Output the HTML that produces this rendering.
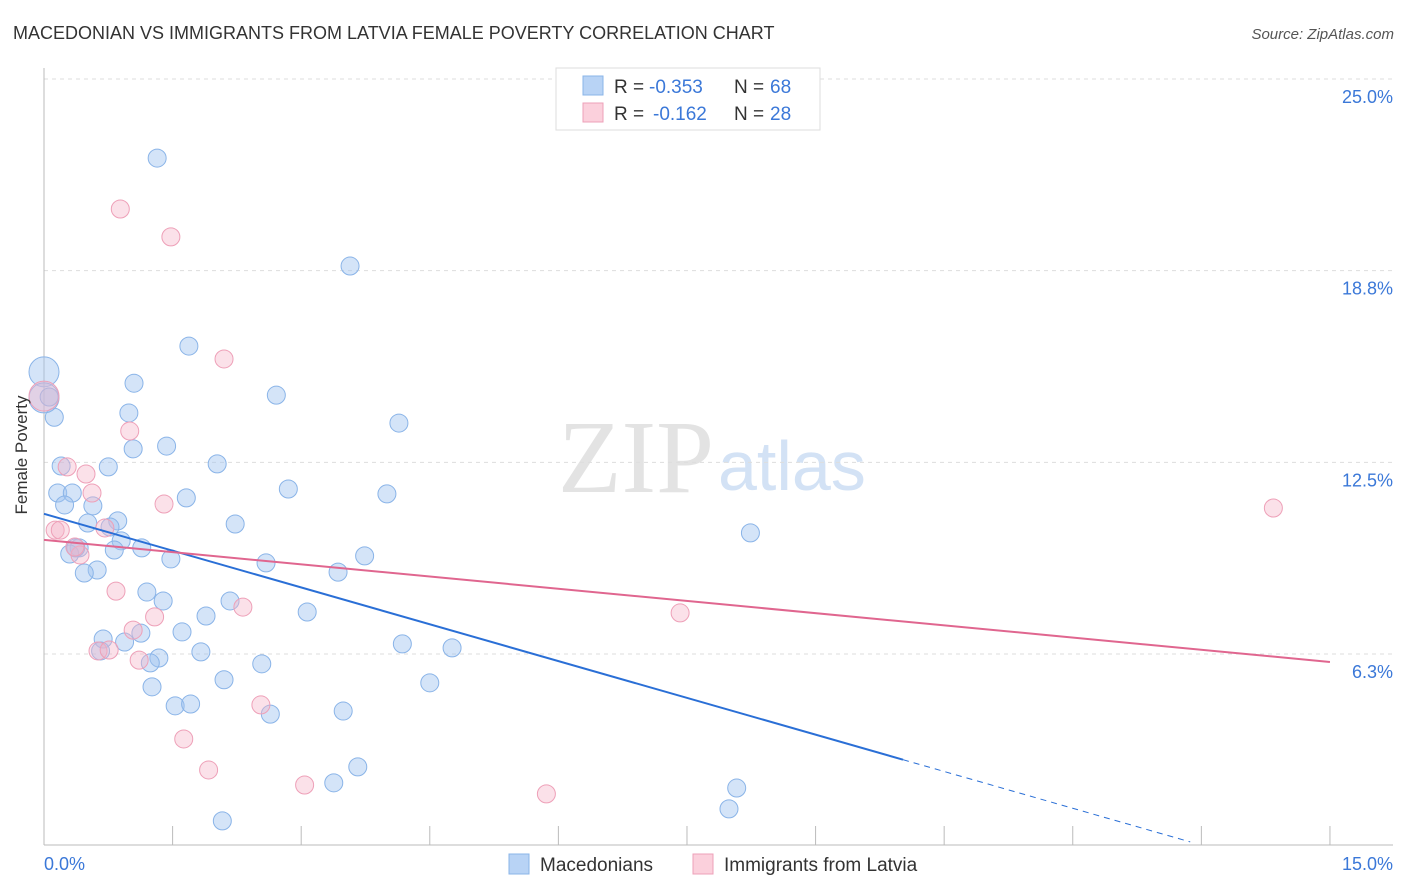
<!DOCTYPE html>
<html><head><meta charset="utf-8"><style>
body{margin:0;background:#fff;font-family:"Liberation Sans",sans-serif}
svg{display:block}
</style></head><body>
<svg id="chart" width="1406" height="892">
<text x="13" y="39" font-size="18" fill="#333">MACEDONIAN VS IMMIGRANTS FROM LATVIA FEMALE POVERTY CORRELATION CHART</text>
<text x="1394" y="39" font-size="15" fill="#555" font-style="italic" text-anchor="end">Source: ZipAtlas.com</text>
<text x="714" y="492" font-size="104" fill="#e3e3e3" text-anchor="end" font-family="Liberation Serif,serif">ZIP</text>
<text x="718" y="490" font-size="70" fill="#d3e2f5">atlas</text>
<g id="grid"></g><g id="axes"></g><g id="marks"></g>
<text x="27" y="455" font-size="17" fill="#333" text-anchor="middle" transform="rotate(-90 27 455)">Female Poverty</text>
<g>
<rect x="556" y="68" width="264" height="62" fill="#fff" stroke="#ddd"/>
<rect x="583" y="76" width="20" height="19" fill="#b8d3f5" stroke="#8ab4e8"/>
<rect x="583" y="103" width="20" height="19" fill="#fbd0dc" stroke="#eea0b8"/>
<text x="614" y="93" font-size="19" fill="#333">R =</text>
<text x="649" y="93" font-size="19" fill="#3b78d8">-0.353</text>
<text x="734" y="93" font-size="19" fill="#333">N =</text>
<text x="770" y="93" font-size="19" fill="#3b78d8">68</text>
<text x="614" y="120" font-size="19" fill="#333">R =</text>
<text x="653" y="120" font-size="19" fill="#3b78d8">-0.162</text>
<text x="734" y="120" font-size="19" fill="#333">N =</text>
<text x="770" y="120" font-size="19" fill="#3b78d8">28</text>
</g>
<g>
<rect x="509" y="854" width="20" height="20" fill="#b8d3f5" stroke="#8ab4e8"/>
<text x="540" y="871" font-size="19" fill="#333">Macedonians</text>
<rect x="693" y="854" width="20" height="20" fill="#fbd0dc" stroke="#eea0b8"/>
<text x="724" y="871" font-size="19" fill="#333">Immigrants from Latvia</text>
</g>
</svg>
<script>
const blueX=[1.32,3.57,1.69,1.05,2.71,0.99,0,0.12,4.14,1.43,1.04,0.20,0.75,2.02,2.85,0.16,0.33,1.66,4.00,0.24,0.57,0.86,0.51,2.23,0.77,8.24,0.41,0.30,0.90,1.14,0.82,3.74,1.48,2.59,0.62,0.47,3.43,1.20,1.39,2.17,1.89,3.07,1.61,0.69,1.13,0.94,0.66,4.18,4.76,1.83,1.34,1.24,2.54,2.10,1.26,4.50,1.53,1.71,2.64,3.49,3.66,3.38,8.08,7.99,2.08,0,0.06,0.37];
const blueY=[22.42,18.90,16.29,15.08,14.69,14.11,15.45,13.97,13.78,13.03,12.94,12.38,12.35,12.45,11.63,11.50,11.50,11.34,11.47,11.11,11.08,10.59,10.52,10.49,10.39,10.20,9.71,9.51,9.94,9.71,9.64,9.45,9.35,9.22,8.99,8.89,8.92,8.27,7.98,7.98,7.49,7.62,6.97,6.74,6.93,6.64,6.35,6.58,6.45,6.32,6.12,5.96,5.93,5.41,5.18,5.31,4.56,4.62,4.29,4.39,2.57,2.05,1.88,1.20,0.81,14.60,14.63,9.71];
const pinkX=[0.89,1.48,2.10,0,1.00,0.27,0.49,0.56,1.40,0.13,0.19,0.71,0.42,0.36,0.84,2.32,1.29,1.04,0.63,0.76,1.11,7.42,14.34,2.53,1.63,1.92,3.04,5.86];
const pinkY=[20.76,19.85,15.87,14.66,13.52,12.35,12.12,11.50,11.14,10.29,10.29,10.36,9.48,9.74,8.30,7.78,7.46,7.03,6.35,6.38,6.05,7.59,11.01,4.59,3.48,2.47,1.98,1.69];
const yTicks=[6.25,12.5,18.75,25];
const yTickLabels=["6.3%","12.5%","18.8%","25.0%"];
const blueTrend=[10.82,-0.80,10.02,13.37];
const pinkTrend=[9.97,-0.2653];
const NS="http://www.w3.org/2000/svg";
const sx=v=>44+v*85.73, sy=v=>845.7-v*30.67;
function mk(tag,attrs,parent){const e=document.createElementNS(NS,tag);for(const k in attrs)e.setAttribute(k,attrs[k]);document.getElementById(parent).appendChild(e);return e;}
yTicks.forEach((t,i)=>{
 const g=mk('line',{x1:44,x2:1393,y1:sy(t),y2:sy(t),stroke:'#ddd','stroke-dasharray':'4,4'},'grid');
 
 
 const l=mk('text',{x:1393,y:sy(t)+24,'font-size':18,fill:'#3b78d8','text-anchor':'end'},'grid');
 l.textContent=yTickLabels[i];
 
 
});
let a=mk('line',{x1:44,x2:44,y1:68,y2:845,stroke:'#bbb'},'axes');


a=mk('line',{x1:44,x2:1393,y1:845,y2:845,stroke:'#bbb'},'axes');


for(let i=1;i<=10;i++){const t=mk('line',{x1:sx(i*1.5),x2:sx(i*1.5),y1:826,y2:845,stroke:'#bbb'},'axes');
 
 }
let xl=mk('text',{x:44,y:870,'font-size':18,fill:'#3b78d8'},'axes');xl.textContent='0.0%';


xl=mk('text',{x:1393,y:870,'font-size':18,fill:'#3b78d8','text-anchor':'end'},'axes');xl.textContent='15.0%';


function dots(X,Y,fill,stroke,name){X.forEach((x,i)=>{const big=(x===0);
 const c=mk('circle',{cx:sx(x),cy:sy(Y[i]),r:big?15:9,fill:fill,stroke:stroke,'stroke-width':1},'marks');
 
 });}
dots(blueX,blueY,'rgba(160,196,240,0.45)','#8ab4e8','macedonian-point');
dots(pinkX,pinkY,'rgba(245,180,200,0.4)','#eea0b8','latvia-point');
const bf=x=>blueTrend[0]+blueTrend[1]*x;
let ln=mk('line',{x1:sx(0),y1:sy(bf(0)),x2:sx(blueTrend[2]),y2:sy(bf(blueTrend[2])),stroke:'#2a6fd6','stroke-width':2},'marks');


ln=mk('line',{x1:sx(blueTrend[2]),y1:sy(bf(blueTrend[2])),x2:sx(blueTrend[3]),y2:sy(bf(blueTrend[3])),stroke:'#2a6fd6','stroke-width':1,'stroke-dasharray':'6,5'},'marks');


const pf=x=>pinkTrend[0]+pinkTrend[1]*x;
ln=mk('line',{x1:sx(0),y1:sy(pf(0)),x2:sx(15),y2:sy(pf(15)),stroke:'#e0668f','stroke-width':2},'marks');


</script>
</body></html>
